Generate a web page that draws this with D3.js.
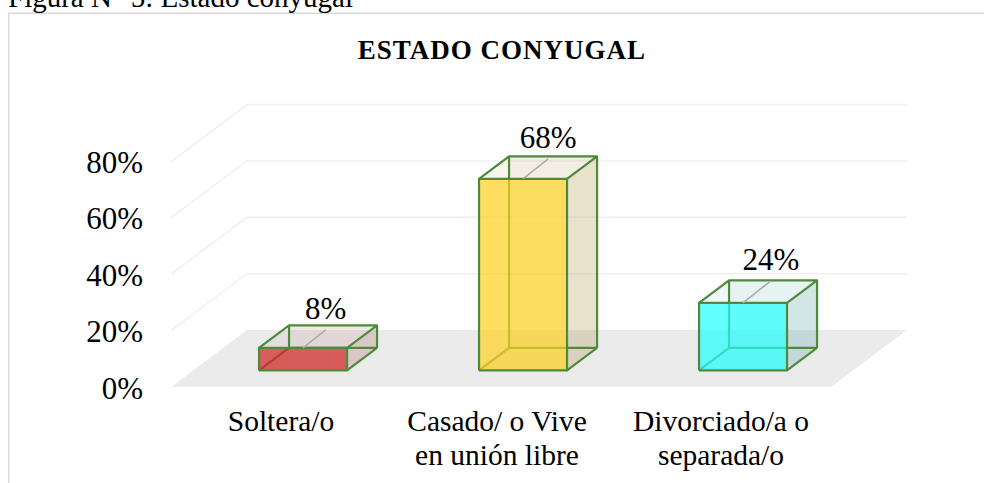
<!DOCTYPE html>
<html>
<head>
<meta http-equiv="Content-Type" content="text/html;charset=utf-8"/>
<script src="https://d3js.org/d3.v7.min.js"></script>
<style type="text/css">
html, body { margin: 0; padding: 0; background: #fff; overflow: hidden; }
text { font-family: "Liberation Serif", "Times New Roman", serif; fill: #000; }
.grid { fill: none; stroke: #f0f0f0; stroke-width: 1.5px; }
.floor { fill: #ebebeb; }
.edge { fill: none; stroke: #4e8a3a; stroke-width: 2.2px; stroke-linejoin: round; }
.leader { stroke: #ababab; stroke-width: 1.6px; }
.frame { fill: none; stroke: #d9d9d9; stroke-width: 1.5px; }
</style>
</head>
<body>
<script>

var categories = [["Soltera/o"], ["Casado/ o Vive", "en unión libre"], ["Divorciado/a o", "separada/o"]];
var values = [8, 68, 24];
var ticks = [0, 20, 40, 60, 80];
var captionText = "Figura N° 5: Estado conyugal";
var titleText = "ESTADO CONYUGAL";

var frontColors = ["#d32424", "#ffd324", "#24ffff"];
var sideColors = ["#b06a6a", "#af964b", "#5faaaa"];

var width = 984, height = 483;

var x = d3.scaleBand()
    .domain(d3.range(categories.length))
    .range([171, 831])
    .paddingInner(0)
    .paddingOuter(0);

var y = d3.scaleLinear()
    .domain([0, 80])
    .range([387, 161.6]);

// floor depth, 0 = front of the plot, 1 = back wall
var depthX = 76, depthY = -57;
var barFront = 0.29, barBack = 0.685;
var barWidth = x.bandwidth() * 0.4;
var leaderDepth = [0.316, 0.35, 0.386];
var labelShift = [0, -4, 0];  // the middle category label sits a bit left of its band

function pt(px, value, z) {
  return [px + depthX * z, y(value) + depthY * z];
}

var line = d3.line();

var svg = d3.select("body").append("svg")
    .attr("width", width)
    .attr("height", height)
    .style("display", "block");

svg.append("path")
    .attr("class", "frame")
    .attr("d", "M8.75," + height + "V13.25H" + width);

svg.append("text")
    .attr("x", 8)
    .attr("y", 7)
    .style("font-size", "29px")
    .text(captionText);

svg.append("text")
    .attr("x", 502)
    .attr("y", 59)
    .attr("text-anchor", "middle")
    .style("font-size", "27px")
    .style("font-weight", "bold")
    .style("letter-spacing", "1px")
    .text(titleText);

// floor
svg.append("path")
    .attr("class", "floor")
    .attr("d", line([pt(171, 0, 0), pt(171, 0, 1), pt(831, 0, 1), pt(831, 0, 0)]) + "Z");

// walls
svg.selectAll(".grid")
    .data(ticks.slice(1))
    .enter().append("path")
    .attr("class", "grid")
    .attr("d", function(d) { return line([pt(171, d, 0), pt(171, d, 1), pt(831, d, 1)]); });

svg.selectAll(".tick")
    .data(ticks)
    .enter().append("text")
    .attr("class", "tick")
    .attr("x", 143)
    .attr("y", function(d) { return y(d) + 11.5; })
    .attr("text-anchor", "end")
    .style("font-size", "31px")
    .text(function(d) { return d + "%"; });

var bars = svg.selectAll(".bar")
    .data(values)
    .enter().append("g")
    .attr("class", "bar");

bars.each(function(v, i) {
  var g = d3.select(this);
  var l = x(i) + x.bandwidth() / 2 - barWidth / 2, r = l + barWidth;
  var a = pt(l, 0, barFront), b = pt(r, 0, barFront), c = pt(r, 0, barBack), e = pt(l, 0, barBack);
  var a2 = pt(l, v, barFront), b2 = pt(r, v, barFront), c2 = pt(r, v, barBack), e2 = pt(l, v, barBack);

  function face(points, fill, opacity) {
    g.append("path")
      .attr("d", line(points) + "Z")
      .style("fill", fill)
      .style("fill-opacity", opacity);
  }
  function edge(points) {
    g.append("path").attr("class", "edge").attr("d", line(points));
  }

  face([e, c, c2, e2], sideColors[i], 0.1);   // back
  face([a, e, e2, a2], sideColors[i], 0.05);  // left
  face([a, b, c, e], sideColors[i], 0.1);     // bottom
  face([b, c, c2, b2], sideColors[i], 0.2);   // right
  face([a2, b2, c2, e2], sideColors[i], 0.05); // top

  // hidden edges sit under the front face and show through it
  edge([a, e, c]);
  edge([e, e2]);
  face([a, b, b2, a2], frontColors[i], 0.7);

  edge([a2, e2, c2, b2]);
  edge([c, c2]);
  edge([b, c]);
  edge([a, b, b2, a2, a]);

  var cx = (l + r) / 2;
  var p0 = pt(cx, v, barFront), p1 = pt(cx, v, barFront + leaderDepth[i]);
  g.append("line")
    .attr("class", "leader")
    .attr("x1", p0[0]).attr("y1", p0[1])
    .attr("x2", p1[0] - 1.5).attr("y2", p1[1]);

  g.append("text")
    .attr("x", p1[0] - 1.5)
    .attr("y", p1[1] - 11)
    .attr("text-anchor", "middle")
    .style("font-size", "31px")
    .text(v + "%");
});

var labels = svg.selectAll(".cat")
    .data(categories)
    .enter().append("text")
    .attr("class", "cat")
    .attr("text-anchor", "middle")
    .style("font-size", "29.5px");

labels.selectAll("tspan")
    .data(function(d, i) { return d.map(function(s) { return {s: s, i: i}; }); })
    .enter().append("tspan")
    .attr("x", function(d) { return x(d.i) + x.bandwidth() / 2 + labelShift[d.i]; })
    .attr("y", function(d, j) { return 431 + j * 34; })
    .text(function(d) { return d.s; });

</script>
</body>
</html>
